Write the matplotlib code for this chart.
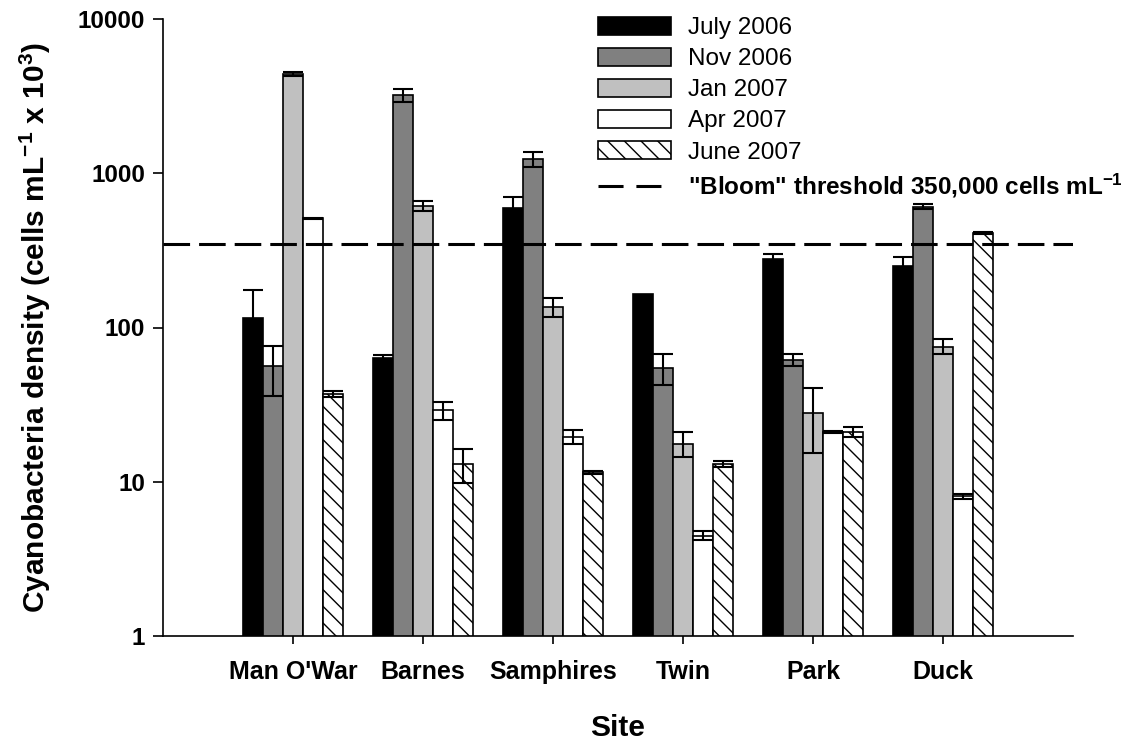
import matplotlib
matplotlib.use("Agg")
import matplotlib.pyplot as plt
import numpy as np
from matplotlib.patches import Patch
from matplotlib.lines import Line2D

plt.rcParams["font.family"] = ["Liberation Sans", "DejaVu Sans"]
plt.rcParams["mathtext.fontset"] = "custom"
plt.rcParams["mathtext.bf"] = "Liberation Sans:bold"
plt.rcParams["mathtext.rm"] = "Liberation Sans:bold"
plt.rcParams["mathtext.default"] = "bf"
plt.rcParams["hatch.linewidth"] = 1.0

# cells mL^-1 x 10^3 (mean, +/- error)
SITES = ["Man O'War", "Barnes", "Samphires", "Twin", "Park", "Duck"]
JULY_2006 = [116, 63, 595, 166, 279, 252]
JULY_2006_ERR = [59, 3, 109, np.nan, 22, 33]
NOV_2006 = [56, 3210, 1238, 55, 62, 608]
NOV_2006_ERR = [20, 320, 133, 12.7, 5.5, 20]
JAN_2007 = [4400, 614, 136, 17.7, 28.1, 75.3]
JAN_2007_ERR = [115, 47, 19, 3.3, 12.7, 8.4]
APR_2007 = [509, 29, 19.5, 4.47, 21, 8.03]
APR_2007_ERR = [4, 4, 2, 0.29, 0.4, 0.31]
JUNE_2007 = [37, 13.1, 11.5, 13.1, 21, 410]
JUNE_2007_ERR = [1.5, 3.3, 0.3, 0.6, 1.6, 9]
THRESHOLD = 350

SERIES = [
    ("July 2006", JULY_2006, JULY_2006_ERR, "black", None),
    ("Nov 2006", NOV_2006, NOV_2006_ERR, "#808080", None),
    ("Jan 2007", JAN_2007, JAN_2007_ERR, "#c0c0c0", None),
    ("Apr 2007", APR_2007, APR_2007_ERR, "white", None),
    ("June 2007", JUNE_2007, JUNE_2007_ERR, "white", "\\\\"),
]

W, H = 1143, 742
fig = plt.figure(figsize=(W / 100, H / 100), dpi=100)
ax = fig.add_axes([163 / W, 1 - 636 / H, (1073 - 163) / W, (636 - 19) / H])
ax.set_yscale("log")

x = np.arange(len(SITES))
bw = 0.154
handles = []
for i, (lab, vals, errs, col, hatch) in enumerate(SERIES):
    xs = x + (i - 2) * bw
    ax.bar(xs, vals, width=bw, color=col, edgecolor="black", linewidth=1.2,
           hatch=hatch, zorder=2)
    ax.errorbar(xs, vals, yerr=errs, fmt="none", ecolor="black", elinewidth=1.5,
                capsize=7, capthick=1.5, zorder=3)
    handles.append(Patch(facecolor=col, edgecolor="black", linewidth=1.2,
                         hatch=hatch, label=lab))

ax.axhline(THRESHOLD, color="black", lw=2.2, dashes=(8.7, 2.95), zorder=4)
handles.append(Line2D([], [], color="black", lw=2.2, dashes=(8.2, 4.2),
                      label='"Bloom" threshold 350,000 cells mL$^{-1}$'))

ax.set_xlim(-1, 6)
ax.set_ylim(1, 10000)
ax.set_xticks(x)
ax.set_xticklabels(SITES, fontsize=18, fontweight="bold")
ax.set_yticks([1, 10, 100, 1000, 10000])
ax.set_yticklabels(["1", "10", "100", "1000", "10000"], fontsize=17.5,
                   fontweight="bold")
ax.yaxis.set_minor_locator(matplotlib.ticker.NullLocator())
ax.tick_params(axis="y", length=7, width=1.2, pad=6)
ax.tick_params(axis="x", length=6, width=1.2, pad=11)
for s in ("top", "right"):
    ax.spines[s].set_visible(False)
for s in ("left", "bottom"):
    ax.spines[s].set_linewidth(1.2)

ax.set_ylabel("Cyanobacteria density (cells mL$^{-1}$ x 10$^{3}$)",
              fontsize=21.5, fontweight="bold", labelpad=18)
ax.set_xlabel("Site", fontsize=21.5, fontweight="bold", labelpad=22)

leg = fig.legend(handles=handles, loc="upper left",
                 bbox_to_anchor=(598 / W, 1 - 17 / H), frameon=False,
                 fontsize=17.5, handlelength=3.0, handleheight=0.74,
                 handletextpad=0.7, labelspacing=0.36, borderpad=0,
                 borderaxespad=0)
leg.get_texts()[-1].set_fontweight("bold")

fig.savefig("out.png", dpi=100)
